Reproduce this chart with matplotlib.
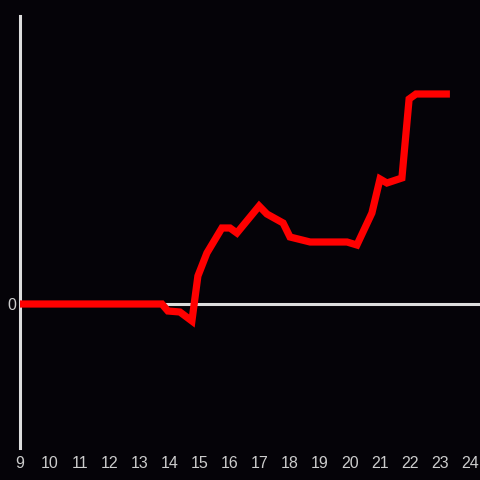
import matplotlib
matplotlib.use('Agg')
import matplotlib.pyplot as plt

# hour of day and value (arbitrary units, 0 = baseline)
hours = [9.0, 13.73, 13.93, 14.33, 14.73, 14.93, 15.23, 15.73, 16.0, 16.23,
         16.97, 17.23, 17.77, 18.0, 18.67, 19.9, 20.23, 20.73, 21.0, 21.23,
         21.73, 21.97, 22.2, 23.33]
values = [0, 0, -7, -8, -17, 28, 51, 76, 76, 71,
          98, 90, 81, 67, 62, 62, 59, 91, 125, 121,
          126, 205, 210, 210]
xticks = list(range(9, 25))

bg = '#050308'
axis_col = '#dddddd'

fig = plt.figure(figsize=(4.8, 4.8), dpi=100, facecolor=bg)
ax = fig.add_axes([20/480, 32/480, 460/480, 432/480])
ax.set_facecolor(bg)

ax.axhline(0, color=axis_col, lw=2.2, zorder=1)
ax.plot(hours, values, color='#ff0000', lw=5.2, zorder=3,
        solid_joinstyle='miter', solid_capstyle='butt')

ax.set_xlim(9, 24.333)
ax.set_ylim(-144, 288)

for s in ['top', 'right', 'bottom']:
    ax.spines[s].set_visible(False)
ax.spines['left'].set_color(axis_col)
ax.spines['left'].set_linewidth(2.2)

ax.set_xticks(xticks)
ax.set_xticklabels([str(t) for t in xticks])
ax.set_yticks([0])
ax.set_yticklabels(['0'])
ax.tick_params(length=0, colors='#cccccc', labelsize=11.5)
ax.tick_params(axis='x', pad=5.5)
ax.tick_params(axis='y', pad=3)
for lab in ax.get_xticklabels() + ax.get_yticklabels():
    lab.set_family('Liberation Sans')

fig.savefig('out.png', facecolor=bg)
